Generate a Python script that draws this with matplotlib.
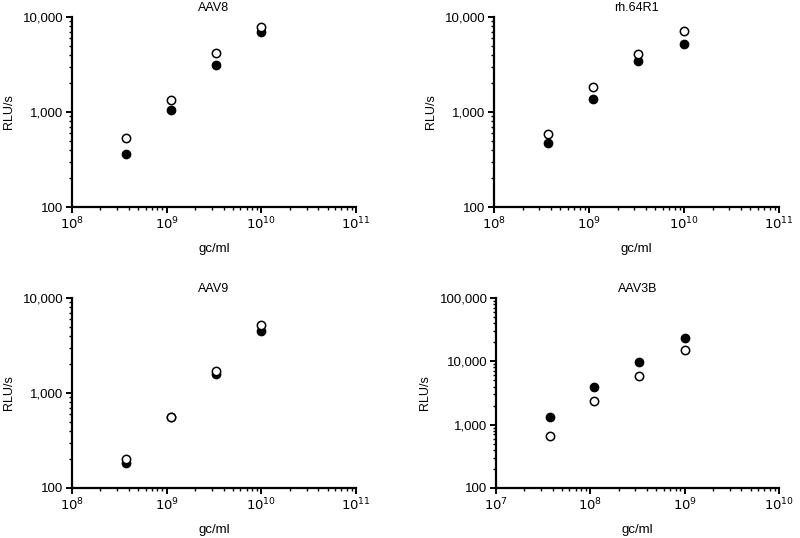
import matplotlib
matplotlib.use("Agg")
import matplotlib.pyplot as plt
from matplotlib.ticker import LogLocator, FuncFormatter, NullFormatter

plt.rcParams['font.family'] = ['Liberation Sans', 'DejaVu Sans']
plt.rcParams['font.size'] = 9

# data (gc/ml vs RLU/s)
titles = ['AAV8', 'rh.64R1', 'AAV9', 'AAV3B']
dose = [3.7e8, 1.1e9, 3.3e9, 1.0e10]
dose_3b = [3.7e7, 1.1e8, 3.3e8, 1.0e9]

aav8_open = [532, 1340, 4180, 7850]
aav8_filled = [364, 1060, 3125, 6900]
rh64_open = [587, 1820, 4080, 7120]
rh64_filled = [475, 1360, 3410, 5150]
aav9_open = [203, 559, 1705, 5240]
aav9_filled = [183, 559, 1598, 4460]
aav3b_open = [670, 2360, 5870, 15300]
aav3b_filled = [1320, 3890, 9760, 23700]

panels = [
    (dose, aav8_open, aav8_filled, (1e8, 1e11), (100, 1e4)),
    (dose, rh64_open, rh64_filled, (1e8, 1e11), (100, 1e4)),
    (dose, aav9_open, aav9_filled, (1e8, 1e11), (100, 1e4)),
    (dose_3b, aav3b_open, aav3b_filled, (1e7, 1e10), (100, 1e5)),
]

# axes boxes in pixels: left, right, top, bottom
boxes = [(72, 356, 17, 207), (494, 779, 17, 207),
         (72, 356, 298, 488), (496, 779, 298, 488)]

W, H = 800, 538
fig = plt.figure(figsize=(W / 100, H / 100), dpi=100)

def comma(v, pos):
    return '{:,.0f}'.format(v)

def pow10(v, pos):
    import math
    return r'$10^{%d}$' % round(math.log10(v))

for (x, yo, yf, xl, yl), (l, r, t, b), title in zip(panels, boxes, titles):
    ax = fig.add_axes([l / W, 1 - b / H, (r - l) / W, (b - t) / H])
    ax.set_xscale('log')
    ax.set_yscale('log')
    ax.plot(x, yf, 'o', color='black', markersize=6, clip_on=False, zorder=3)
    ax.plot(x, yo, 'o', markerfacecolor='white', markeredgecolor='black',
            markeredgewidth=1.1, markersize=6, clip_on=False, zorder=4)
    ax.set_xlim(*xl)
    ax.set_ylim(*yl)
    for s in ['top', 'right']:
        ax.spines[s].set_visible(False)
    for s in ['left', 'bottom']:
        ax.spines[s].set_linewidth(1.6)
    ax.xaxis.set_major_locator(LogLocator(base=10, numticks=10))
    ax.yaxis.set_major_locator(LogLocator(base=10, numticks=10))
    ax.xaxis.set_minor_locator(LogLocator(base=10, subs=range(2, 10), numticks=20))
    ax.yaxis.set_minor_locator(LogLocator(base=10, subs=range(2, 10), numticks=20))
    ax.xaxis.set_minor_formatter(NullFormatter())
    ax.yaxis.set_minor_formatter(NullFormatter())
    ax.yaxis.set_major_formatter(FuncFormatter(comma))
    ax.xaxis.set_major_formatter(FuncFormatter(pow10))
    ax.tick_params(which='major', length=4, width=1.4, direction='out', labelsize=9.5, pad=2)
    ax.tick_params(which='minor', length=2.5, width=1.0, direction='out')
    ax.set_title(title, fontsize=9, pad=4)
    ax.set_xlabel('gc/ml', fontsize=9.5, labelpad=8)
    ax.set_ylabel('RLU/s', fontsize=9, labelpad=6)

fig.savefig('out.png', dpi=100)
